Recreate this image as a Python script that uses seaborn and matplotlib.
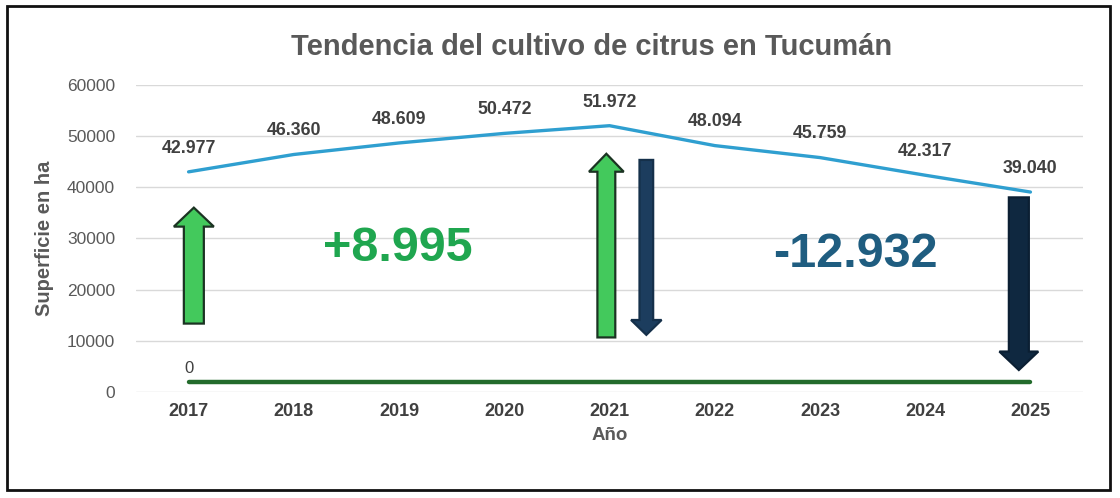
import pandas as pd
import seaborn as sns
import matplotlib.pyplot as plt
from matplotlib.patches import Rectangle

# data
years = [2017, 2018, 2019, 2020, 2021, 2022, 2023, 2024, 2025]
superficie = [42977, 46360, 48609, 50472, 51972, 48094, 45759, 42317, 39040]
base_line = [1950, 1950, 1950, 1950, 1950, 1950, 1950, 1950, 1950]
base_label = "0"
growth_text = "+8.995"
decline_text = "-12.932"

# arrows: (x, y_start, y_end, shaft width, head width, head length, fill, edge)
arrows = [
    (2017.05, 13400, 36000, 0.19, 0.38, 3700, "#43c95c", "#1b3322"),
    (2020.97, 10700, 46500, 0.17, 0.33, 3500, "#43c95c", "#1b3322"),
    (2021.35, 45300, 11200, 0.13, 0.29, 2900, "#1c3d5e", "#15304a"),
    (2024.89, 38000, 4350, 0.19, 0.37, 3600, "#0f2840", "#0b1f33"),
]

df = pd.DataFrame({"Año": years, "Superficie": superficie, "Base": base_line})

sns.set_style("white")
plt.rcParams["font.family"] = ["Liberation Sans", "DejaVu Sans"]

fig = plt.figure(figsize=(11.2, 4.98), dpi=100)
ax = fig.add_axes([0.1214, 0.2122, 0.8456, 0.6181])

# horizontal gridlines
for v in range(0, 60001, 10000):
    ax.axhline(v, color="#d9d9d9", lw=1, zorder=0)

sns.lineplot(data=df, x="Año", y="Base", ax=ax, color="#236b2c", lw=3.2, zorder=2)
sns.lineplot(data=df, x="Año", y="Superficie", ax=ax, color="#2f9fd0", lw=2.4, zorder=3)

# data labels
for x, y in zip(years, superficie):
    ax.annotate(f"{y:,}".replace(",", "."), (x, y), xytext=(0, 17), textcoords="offset points",
                ha="center", va="center", fontsize=12.8, fontweight="bold", color="#404040")
ax.annotate(base_label, (years[0], base_line[0]), xytext=(0, 10), textcoords="offset points",
            ha="center", va="center", fontsize=12, color="#404040")

# arrows
for x, y0, y1, w, hw, hl, fc, ec in arrows:
    ax.arrow(x, y0, 0, y1 - y0, width=w, head_width=hw, head_length=hl,
             length_includes_head=True, fc=fc, ec=ec, lw=1.6, zorder=4)

ax.text(2018.99, 28000, growth_text, ha="center", va="center", fontsize=35,
        fontweight="bold", color="#1fa64f")
ax.text(2023.34, 26800, decline_text, ha="center", va="center", fontsize=35,
        fontweight="bold", color="#1f5d80")

ax.set_xlim(2016.5, 2025.5)
ax.set_ylim(0, 60000)
ax.set_xticks(years)
ax.set_yticks(range(0, 60001, 10000))
ax.set_xticklabels([str(y) for y in years], fontsize=13, fontweight="bold", color="#404040")
ax.set_yticklabels([str(v) for v in range(0, 60001, 10000)], fontsize=12.5, color="#595959")
ax.tick_params(axis="both", length=0)
ax.tick_params(axis="x", pad=8)
ax.tick_params(axis="y", pad=15)
ax.set_xlabel("Año", fontsize=13.5, fontweight="bold", color="#595959", labelpad=5)
ax.set_ylabel("Superficie en ha", fontsize=14.5, fontweight="bold", color="#595959", labelpad=9)
sns.despine(ax=ax, left=True, bottom=True)

fig.text(0.528, 0.905, "Tendencia del cultivo de citrus en Tucumán", ha="center", va="center",
         fontsize=21, fontweight="bold", color="#595959")

# outer frame
fig.patches.append(Rectangle((0.0065, 0.016), 0.985, 0.972, transform=fig.transFigure,
                             fill=False, ec="#111111", lw=2))

fig.savefig("out.png", dpi=100)
